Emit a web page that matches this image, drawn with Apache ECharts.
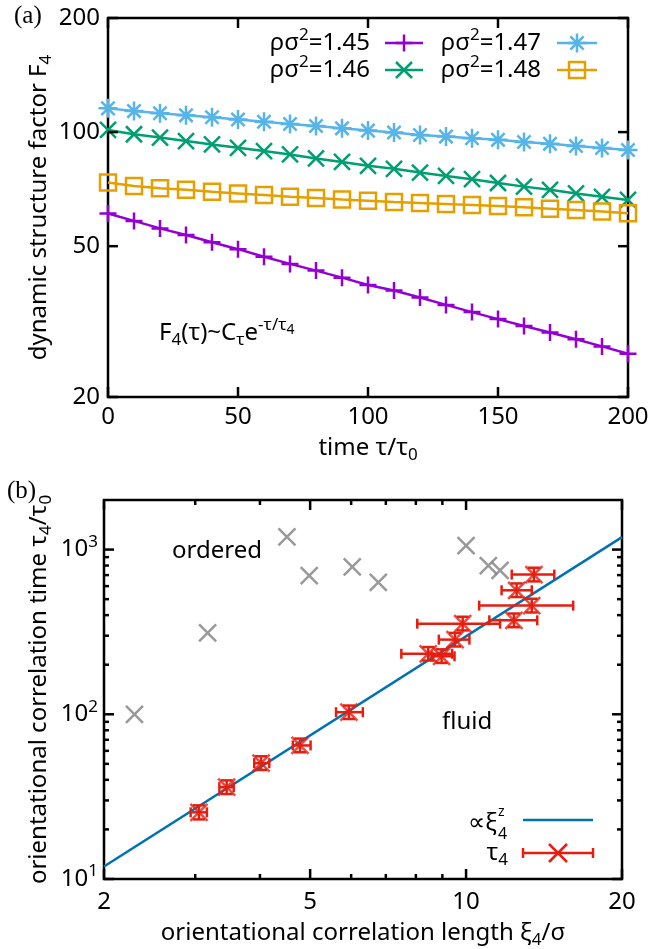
<!DOCTYPE html>
<html>
<head>
<meta charset="utf-8">
<script src="https://cdn.jsdelivr.net/npm/echarts@6/dist/echarts.min.js"></script>
<style>
html, body { margin: 0; padding: 0; background: #ffffff; }
#chart { width: 669px; height: 949px; }
</style>
</head>
<body>
<div id="chart"></div>
<script>
// ---------- panel (a): dynamic structure factor F4(τ) ----------
const tau = [0, 10, 20, 30, 40, 50, 60, 70, 80, 90, 100, 110, 120, 130, 140, 150, 160, 170, 180, 190, 200];
const F4_145 = [61.0, 58.3, 55.7, 53.5, 51.2, 49.1, 46.9, 44.9, 43.1, 41.3, 39.5, 38.2, 36.6, 35.0, 33.5, 32.1, 30.8, 29.6, 28.4, 27.2, 26.0];
const F4_146 = [101.3, 98.7, 96.7, 94.7, 92.8, 90.9, 89.1, 87.3, 85.2, 83.4, 81.5, 80.0, 78.2, 76.6, 75.1, 73.4, 71.8, 70.4, 68.9, 67.5, 66.2];
const F4_147 = [115.5, 113.6, 112.1, 110.7, 109.4, 108.0, 106.5, 105.0, 103.8, 102.3, 100.9, 99.7, 98.3, 97.3, 96.3, 95.4, 94.2, 93.1, 91.9, 90.8, 89.7];
const F4_148 = [73.6, 72.1, 71.1, 70.4, 69.6, 68.9, 68.2, 67.5, 67.0, 66.4, 65.9, 65.4, 65.0, 64.6, 64.2, 63.8, 63.3, 62.8, 62.3, 61.7, 61.1];

// ---------- panel (b): correlation time vs correlation length ----------
const orderedXi = [2.29, 3.17, 4.51, 4.98, 6.03, 6.77, 10.0, 11.04, 11.63];
const orderedTau = [100, 312, 1194, 695, 785, 633, 1057, 800, 748];

const fluidXi = [3.05, 3.45, 4.02, 4.78, 5.94, 8.45, 8.97, 9.52, 9.85, 12.37, 13.39, 12.52, 13.52];
const fluidTau = [25.4, 36.1, 50.5, 64.7, 103, 233, 225, 284, 355, 372, 457, 566, 705];
const fluidXiLow = [2.94, 3.34, 3.90, 4.63, 5.61, 7.50, 8.60, 8.86, 8.05, 11.09, 10.60, 11.71, 12.25];
const fluidXiHigh = [3.16, 3.56, 4.17, 5.01, 6.32, 9.40, 9.50, 10.15, 11.63, 13.72, 16.10, 13.39, 14.80];
const fluidTauLow = [23.0, 32.8, 45.9, 58.8, 93.6, 212, 205, 258, 323, 338, 415, 515, 641];
const fluidTauHigh = [28.0, 39.7, 55.6, 71.2, 113, 256, 248, 312, 391, 409, 503, 623, 776];

const fitXi = [2, 20];
const fitTau = [11.9, 1190];

// ---------- tick values and labels ----------
const topXTicks = [0, 50, 100, 150, 200];
const topXLabels = ['0', '50', '100', '150', '200'];
const topYTicks = [20, 50, 100, 200];
const topYLabels = ['20', '50', '100', '200'];
const botXMajor = [2, 5, 10, 20];
const botXLabels = ['2', '5', '10', '20'];
const botXMinor = [3, 4, 6, 7, 8, 9];
const botYMajor = [10, 100, 1000];
const botYLabels = ['10{sup|1}', '10{sup|2}', '10{sup|3}'];
const botYMinor = [20, 30, 40, 50, 60, 70, 80, 90, 200, 300, 400, 500, 600, 700, 800, 900];

// ---------- styling ----------
const FONT = '"Noto Sans", sans-serif';
const SERIF = '"Liberation Serif", "DejaVu Serif", serif';
const FS = 24;
const LW = 2.5;
const C145 = '#9400d3', C146 = '#009e73', C147 = '#56b4e9', C148 = '#e69f00';
const RED = '#e51e10', GRAY = '#808080', BLUE = '#0072b2';

const SYM = {
  plus: 'path://M0,5L10,5M5,0L5,10',
  cross: 'path://M0,0L10,10M0,10L10,0',
  star: 'path://M0,5L10,5M5,0L5,10M1.5,1.5L8.5,8.5M1.5,8.5L8.5,1.5',
  square: 'path://M0,0L10,0L10,10L0,10Z'
};

function decaySeries(name, vals, color, sym, size) {
  return {
    type: 'line', name: name, xAxisIndex: 0, yAxisIndex: 0,
    data: tau.map((t, i) => [t, vals[i]]),
    symbol: sym, symbolSize: size, showSymbol: true, clip: false,
    lineStyle: { color: color, width: LW },
    itemStyle: { color: 'rgba(0,0,0,0)', borderColor: color, borderWidth: LW },
    emphasis: { disabled: true }, z: 3
  };
}

const hiddenAxis = {
  axisLine: { show: false }, axisTick: { show: false },
  axisLabel: { show: false }, splitLine: { show: false }
};

const chart = echarts.init(document.getElementById('chart'), null, { renderer: 'canvas' });

const option = {
  animation: false,
  backgroundColor: '#ffffff',
  grid: [
    { left: 108, top: 18, width: 520, height: 379, show: true, borderColor: '#000', borderWidth: 2.5, backgroundColor: 'rgba(0,0,0,0)' },
    { left: 104, top: 500, width: 518, height: 379, show: true, borderColor: '#000', borderWidth: 2.5, backgroundColor: 'rgba(0,0,0,0)' }
  ],
  xAxis: [
    Object.assign({ type: 'value', gridIndex: 0, min: 0, max: 200 }, hiddenAxis),
    Object.assign({ type: 'log', logBase: 10, gridIndex: 1, min: 2, max: 20 }, hiddenAxis)
  ],
  yAxis: [
    Object.assign({ type: 'log', logBase: 10, gridIndex: 0, min: 20, max: 200 }, hiddenAxis),
    Object.assign({ type: 'log', logBase: 10, gridIndex: 1, min: 10, max: 2000 }, hiddenAxis)
  ],
  series: [
    decaySeries('ρσ²=1.45', F4_145, C145, SYM.plus, 17),
    decaySeries('ρσ²=1.46', F4_146, C146, SYM.cross, 16),
    decaySeries('ρσ²=1.47', F4_147, C147, SYM.star, 19),
    decaySeries('ρσ²=1.48', F4_148, C148, SYM.square, 16),
    {
      type: 'scatter', name: 'ordered', xAxisIndex: 1, yAxisIndex: 1,
      data: orderedXi.map((x, i) => [x, orderedTau[i]]),
      symbol: SYM.cross, symbolSize: 17,
      itemStyle: { color: 'rgba(0,0,0,0)', borderColor: GRAY, borderWidth: LW },
      emphasis: { disabled: true }, z: 2
    },
    {
      type: 'line', name: 'fit', xAxisIndex: 1, yAxisIndex: 1,
      data: fitXi.map((x, i) => [x, fitTau[i]]),
      symbol: 'none', lineStyle: { color: BLUE, width: LW },
      emphasis: { disabled: true }, z: 3
    },
    {
      type: 'custom', name: 'τ4 errors', xAxisIndex: 1, yAxisIndex: 1,
      data: fluidXi.map((x, i) => [x, fluidTau[i], fluidXiLow[i], fluidXiHigh[i], fluidTauLow[i], fluidTauHigh[i]]),
      encode: { x: 0, y: 1 },
      renderItem: function (params, api) {
        const x = api.value(0), y = api.value(1);
        const c = api.coord([x, y]);
        const l = api.coord([api.value(2), y]);
        const r = api.coord([api.value(3), y]);
        const lo = api.coord([x, api.value(4)]);
        const hi = api.coord([x, api.value(5)]);
        const st = { stroke: RED, lineWidth: LW };
        const capX = 5, capY = 6;
        return {
          type: 'group',
          children: [
            { type: 'line', shape: { x1: l[0], y1: c[1], x2: r[0], y2: c[1] }, style: st },
            { type: 'line', shape: { x1: l[0], y1: c[1] - capX, x2: l[0], y2: c[1] + capX }, style: st },
            { type: 'line', shape: { x1: r[0], y1: c[1] - capX, x2: r[0], y2: c[1] + capX }, style: st },
            { type: 'line', shape: { x1: c[0], y1: lo[1], x2: c[0], y2: hi[1] }, style: st },
            { type: 'line', shape: { x1: c[0] - capY, y1: lo[1], x2: c[0] + capY, y2: lo[1] }, style: st },
            { type: 'line', shape: { x1: c[0] - capY, y1: hi[1], x2: c[0] + capY, y2: hi[1] }, style: st }
          ]
        };
      },
      z: 4
    },
    {
      type: 'scatter', name: 'τ4', xAxisIndex: 1, yAxisIndex: 1,
      data: fluidXi.map((x, i) => [x, fluidTau[i]]),
      symbol: SYM.cross, symbolSize: 17,
      itemStyle: { color: 'rgba(0,0,0,0)', borderColor: RED, borderWidth: LW },
      emphasis: { disabled: true }, z: 5
    }
  ]
};

chart.setOption(option);

// ---------- axis ticks, labels, titles, keys ----------
const g = [];
const P0 = (x, y) => chart.convertToPixel({ xAxisIndex: 0, yAxisIndex: 0 }, [x, y]);
const P1 = (x, y) => chart.convertToPixel({ xAxisIndex: 1, yAxisIndex: 1 }, [x, y]);

function seg(x1, y1, x2, y2, color, w) {
  g.push({ type: 'line', silent: true, z: 10, shape: { x1: x1, y1: y1, x2: x2, y2: y2 }, style: { stroke: color || '#000', lineWidth: w || LW } });
}
function txt(x, y, text, opts) {
  opts = opts || {};
  const style = {
    text: text, fill: '#000', fontSize: opts.size || FS, fontFamily: opts.font || FONT,
    align: opts.align || 'center', textAlign: opts.align || 'center',
    verticalAlign: 'middle', textVerticalAlign: 'middle',
    lineHeight: opts.lineHeight || 32
  };
  if (opts.rich) style.rich = opts.rich;
  g.push({ type: 'text', silent: true, z: 11, x: x, y: y, rotation: opts.rotation || 0, style: style });
}

const RICH = {
  sup: { fontSize: 17, lineHeight: 17, verticalAlign: 'top', fontFamily: FONT },
  sub: { fontSize: 17, lineHeight: 17, verticalAlign: 'bottom', fontFamily: FONT },
  ssub: { fontSize: 14, lineHeight: 14, verticalAlign: 'middle', padding: [0, 0, 5, 0], fontFamily: FONT }
};

// panel (a) ticks
const aBL = P0(0, 20), aTR = P0(200, 200);
topXTicks.forEach((t, i) => {
  const x = P0(t, 20)[0];
  seg(x, aBL[1], x, aBL[1] - 10);
  seg(x, aTR[1], x, aTR[1] + 10);
  txt(x, aBL[1] + 20, topXLabels[i]);
});
topYTicks.forEach((v, i) => {
  const y = P0(0, v)[1];
  seg(aBL[0], y, aBL[0] + 10, y);
  seg(aTR[0], y, aTR[0] - 10, y);
  txt(aBL[0] - 8, y, topYLabels[i], { align: 'right' });
});

// panel (b) ticks
const bBL = P1(2, 10), bTR = P1(20, 2000);
botXMajor.forEach((v, i) => {
  const x = P1(v, 10)[0];
  seg(x, bBL[1], x, bBL[1] - 10);
  seg(x, bTR[1], x, bTR[1] + 10);
  txt(x, bBL[1] + 23, botXLabels[i]);
});
botXMinor.forEach(v => {
  const x = P1(v, 10)[0];
  seg(x, bBL[1], x, bBL[1] - 5);
  seg(x, bTR[1], x, bTR[1] + 5);
});
botYMajor.forEach((v, i) => {
  const y = P1(2, v)[1];
  seg(bBL[0], y, bBL[0] + 10, y);
  seg(bTR[0], y, bTR[0] - 10, y);
  txt(bBL[0] - 6, y, botYLabels[i], { align: 'right', rich: RICH });
});
botYMinor.forEach(v => {
  const y = P1(2, v)[1];
  seg(bBL[0], y, bBL[0] + 5, y);
  seg(bTR[0], y, bTR[0] - 5, y);
});

// axis titles
txt((aBL[0] + aTR[0]) / 2, 448, 'time τ/τ{sub|0}', { rich: RICH });
txt(39, (aBL[1] + aTR[1]) / 2, 'dynamic structure factor F{sub|4}', { rich: RICH, rotation: Math.PI / 2 });
txt((bBL[0] + bTR[0]) / 2, 933, 'orientational correlation length ξ{sub|4}/σ', { rich: RICH });
txt(39, (bBL[1] + bTR[1]) / 2, 'orientational correlation time τ{sub|4}/τ{sub|0}', { rich: RICH, rotation: Math.PI / 2 });

// panel tags
txt(14, 16, '(a)', { align: 'left', font: SERIF, size: 25 });
txt(7, 491, '(b)', { align: 'left', font: SERIF, size: 25 });

// annotations
txt(159, 333, 'F{sub|4}(τ)~C{sub|τ}e{sup|-τ/τ}{ssub|4}', { align: 'left', rich: RICH });
txt(172, 551, 'ordered', { align: 'left' });
txt(442, 722, 'fluid', { align: 'left' });

// key for panel (a)
function marker(kind, cx, cy, color, h) {
  if (kind === 'plus' || kind === 'star') {
    seg(cx - h, cy, cx + h, cy, color); seg(cx, cy - h, cx, cy + h, color);
  }
  if (kind === 'cross') {
    seg(cx - h, cy - h, cx + h, cy + h, color); seg(cx - h, cy + h, cx + h, cy - h, color);
  }
  if (kind === 'star') {
    const d = h * 0.7;
    seg(cx - d, cy - d, cx + d, cy + d, color); seg(cx - d, cy + d, cx + d, cy - d, color);
  }
  if (kind === 'square') {
    g.push({ type: 'rect', silent: true, z: 10, shape: { x: cx - h, y: cy - h, width: 2 * h, height: 2 * h }, style: { fill: 'none', stroke: color, lineWidth: LW } });
  }
}
const keyA = [
  { label: 'ρσ{sup|2}=1.45', color: C145, kind: 'plus', h: 8.5, tx: 370, x1: 385, x2: 423, y: 43 },
  { label: 'ρσ{sup|2}=1.47', color: C147, kind: 'star', h: 9.5, tx: 541, x1: 557, x2: 597, y: 43 },
  { label: 'ρσ{sup|2}=1.46', color: C146, kind: 'cross', h: 8, tx: 370, x1: 385, x2: 423, y: 70 },
  { label: 'ρσ{sup|2}=1.48', color: C148, kind: 'square', h: 8, tx: 541, x1: 557, x2: 597, y: 70 }
];
keyA.forEach(k => {
  txt(k.tx, k.y, k.label, { align: 'right', rich: RICH });
  seg(k.x1, k.y, k.x2, k.y, k.color);
  marker(k.kind, (k.x1 + k.x2) / 2, k.y, k.color, k.h);
});

// key for panel (b)
txt(497, 823, '∝ξ', { align: 'right' });
txt(498, 812, 'z', { align: 'left', size: 14 });
txt(498, 834, '4', { align: 'left', size: 16 });
seg(523, 820, 593, 820, BLUE);
txt(508, 853, 'τ{sub|4}', { align: 'right', rich: RICH });
seg(523, 853, 593, 853, RED);
seg(523, 848, 523, 858, RED);
seg(593, 848, 593, 858, RED);
marker('cross', 558, 853, RED, 9);

chart.setOption({ graphic: { elements: g } });
</script>
</body>
</html>
